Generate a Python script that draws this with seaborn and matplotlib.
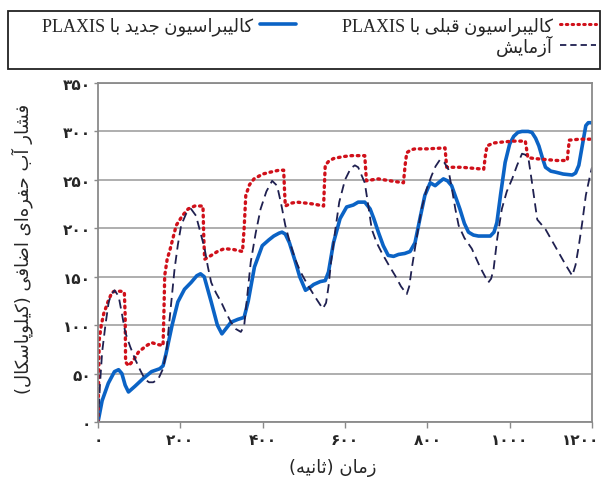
import numpy as np
import pandas as pd
import matplotlib
matplotlib.use("Agg")
import matplotlib.pyplot as plt
import matplotlib.transforms as mtransforms
import seaborn as sns
from matplotlib import font_manager
from matplotlib.font_manager import FontProperties
from matplotlib.ft2font import FT2Font
from matplotlib.lines import Line2D
from matplotlib.patches import Rectangle

# ---------------- data ----------------
time_new = [0, 10, 25, 40, 50, 58, 66, 74, 90, 110, 130, 150, 158, 165, 180, 194, 210, 226, 240, 249,
            258, 275, 290, 301, 312, 323, 340, 355, 365, 380, 399, 415, 427, 440, 447, 455, 465, 479,
            490, 504, 515, 524, 540, 552, 560, 572, 588, 604, 612, 620, 632, 648, 661, 670, 681, 693,
            705, 718, 730, 745, 758, 770, 782, 794, 807, 819, 830, 839, 849, 859, 879, 890, 900, 912,
            924, 940, 953, 962, 969, 978, 989, 1000, 1010, 1020, 1030, 1045, 1054, 1063, 1071, 1080,
            1087, 1100, 1111, 1130, 1152, 1160, 1168, 1175, 1185, 1191, 1200]
pp_new = [0, 22, 40, 52, 54, 50, 38, 31, 37, 45, 52, 55, 58, 70, 100, 124, 137, 144, 151, 153,
          150, 124, 100, 91, 97, 103, 106, 108, 125, 160, 182, 188, 192, 195, 196, 194, 185, 166,
          150, 136, 139, 142, 145, 146, 155, 185, 210, 222, 223, 224, 227, 227, 220, 210, 196, 182,
          172, 171, 173, 174, 176, 185, 210, 234, 247, 244, 248, 251, 249, 244, 220, 205, 196, 193,
          192, 192, 192, 196, 206, 235, 268, 287, 295, 299, 300, 300, 299, 293, 285, 272,
          263, 259, 258, 256, 255, 257, 265, 282, 306, 309, 309]

time_old = [0, 3, 8, 14, 25, 34, 42, 55, 64, 66, 67, 74, 85, 98, 115, 130, 145, 158, 160, 162,
            168, 175, 190, 205, 219, 235, 255, 257, 259, 275, 290, 307, 330, 351, 355, 359, 368,
            379, 400, 419, 440, 451, 453, 455, 470, 483, 505, 524, 548, 550, 552, 560, 572, 595,
            616, 648, 650, 652, 665, 681, 710, 742, 746, 750, 760, 770, 800, 843, 845, 847, 870,
            884, 910, 937, 941, 945, 960, 981, 1010, 1038, 1041, 1044, 1060, 1087, 1115, 1140,
            1142, 1145, 1170, 1200]
pp_old = [0, 85, 100, 112, 125, 134, 135, 135, 134, 110, 62, 58, 63, 72, 78, 82, 80, 79, 110, 151,
          168, 178, 203, 213, 220, 223, 223, 190, 168, 172, 176, 179, 178, 176, 200, 234, 245,
          251, 256, 258, 260, 260, 240, 223, 226, 227, 226, 225, 223, 245, 265, 269, 272, 274,
          275, 275, 262, 249, 250, 251, 249, 247, 265, 278, 281, 282, 282, 283, 273, 263, 263,
          263, 262, 261, 275, 285, 288, 289, 290, 290, 282, 273, 272, 271, 270, 270,
          280, 291, 292, 292]

time_test = [0, 5, 10, 18, 26, 33, 40, 50, 58, 66, 78, 90, 102, 114, 124, 134, 146, 158, 166, 176,
             186, 194, 202, 214, 226, 238, 248, 259, 267, 275, 287, 299, 311, 323, 335, 347, 355,
             362, 371, 383, 395, 409, 423, 435, 445, 455, 467, 479, 492, 506, 526, 546, 554, 560,
             566, 576, 586, 600, 614, 624, 632, 648, 656, 665, 677, 689, 705, 722, 736, 750, 756,
             762, 774, 786, 798, 810, 820, 831, 841, 851, 860, 868, 876, 890, 908, 928, 948, 955,
             961, 970, 981, 993, 1006, 1018, 1030, 1038, 1046, 1055, 1067, 1077, 1087, 1103, 1119,
             1135, 1152, 1160, 1168, 1176, 1185, 1193, 1200]
pp_test = [0, 40, 72, 100, 124, 132, 136, 130, 112, 93, 78, 65, 54, 44, 41, 41, 44, 55, 72, 115,
           158, 183, 203, 215, 220, 213, 197, 179, 160, 144, 133, 124, 113, 103, 96, 93, 99,
           128, 165, 195, 220, 238, 249, 244, 225, 203, 184, 168, 155, 144, 130, 117, 123, 140,
           165, 197, 227, 250, 262, 265, 263, 247, 225, 199, 185, 175, 163, 151, 140, 132, 140,
           158, 190, 220, 240, 254, 264, 271, 268, 261, 240, 220, 203, 190, 179, 160, 144, 148,
           158, 190, 220, 238, 251, 265, 277, 276, 271, 245, 209, 204, 199, 187, 175,
           163, 151, 162, 182, 205, 234, 250, 263]

label_new = "کالیبراسیون جدید با PLAXIS"
label_old = "کالیبراسیون قبلی با PLAXIS"
label_test = "آزمایش"
x_title = "زمان (ثانیه)"
y_title = "فشار آب حفره\u200cای اضافی (کیلوپاسکال)"
x_ticks = [0, 200, 400, 600, 800, 1000, 1200]
x_tick_labels = ["۰", "۲۰۰", "۴۰۰", "۶۰۰", "۸۰۰", "۱۰۰۰", "۱۲۰۰"]
y_ticks = [0, 50, 100, 150, 200, 250, 300, 350]
y_tick_labels = ["۰", "۵۰", "۱۰۰", "۱۵۰", "۲۰۰", "۲۵۰", "۳۰۰", "۳۵۰"]

# ---------------- Persian shaping (matplotlib has no text shaping) ----------------
_cmap = FT2Font(font_manager.findfont(FontProperties(family="DejaVu Sans"))).get_charmap()

FORMS = {
    "\u0622": (0xFE81, 0xFE82), "\u0627": (0xFE8D, 0xFE8E),
    "\u0628": (0xFE8F, 0xFE90, 0xFE91, 0xFE92), "\u067E": (0xFB56, 0xFB57, 0xFB58, 0xFB59),
    "\u062A": (0xFE95, 0xFE96, 0xFE97, 0xFE98), "\u062B": (0xFE99, 0xFE9A, 0xFE9B, 0xFE9C),
    "\u062C": (0xFE9D, 0xFE9E, 0xFE9F, 0xFEA0), "\u062D": (0xFEA1, 0xFEA2, 0xFEA3, 0xFEA4),
    "\u062E": (0xFEA5, 0xFEA6, 0xFEA7, 0xFEA8), "\u062F": (0xFEA9, 0xFEAA),
    "\u0630": (0xFEAB, 0xFEAC), "\u0631": (0xFEAD, 0xFEAE), "\u0632": (0xFEAF, 0xFEB0),
    "\u0633": (0xFEB1, 0xFEB2, 0xFEB3, 0xFEB4), "\u0634": (0xFEB5, 0xFEB6, 0xFEB7, 0xFEB8),
    "\u0635": (0xFEB9, 0xFEBA, 0xFEBB, 0xFEBC), "\u0636": (0xFEBD, 0xFEBE, 0xFEBF, 0xFEC0),
    "\u0637": (0xFEC1, 0xFEC2, 0xFEC3, 0xFEC4), "\u0639": (0xFEC9, 0xFECA, 0xFECB, 0xFECC),
    "\u0641": (0xFED1, 0xFED2, 0xFED3, 0xFED4), "\u0642": (0xFED5, 0xFED6, 0xFED7, 0xFED8),
    "\u06A9": (0xFB8E, 0xFB8F, 0xFB90, 0xFB91), "\u06AF": (0xFB92, 0xFB93, 0xFB94, 0xFB95),
    "\u0644": (0xFEDD, 0xFEDE, 0xFEDF, 0xFEE0), "\u0645": (0xFEE1, 0xFEE2, 0xFEE3, 0xFEE4),
    "\u0646": (0xFEE5, 0xFEE6, 0xFEE7, 0xFEE8), "\u0647": (0xFEE9, 0xFEEA, 0xFEEB, 0xFEEC),
    "\u0648": (0xFEED, 0xFEEE), "\u06CC": (0xFBFC, 0xFBFD, 0xFBFE, 0xFBFF),
}
FALLBACK = {
    "\u06A9": (0xFED9, 0xFEDA, 0xFEDB, 0xFEDC),
    "\u06CC": (0xFEEF, 0xFEF0, 0xFEF3, 0xFEF4),
    "\u067E": (0xFE8F, 0xFE90, 0xFE91, 0xFE92),
}
for _k, _v in list(FORMS.items()):
    if not all(c in _cmap for c in _v) and _k in FALLBACK:
        FORMS[_k] = FALLBACK[_k]


def _jt(c):
    f = FORMS.get(c)
    if f is None:
        return "U"
    return "D" if len(f) == 4 else "R"


def shape(s):
    out = []
    for i, c in enumerate(s):
        f = FORMS.get(c)
        if f is None:
            out.append(c)
            continue
        jp = i > 0 and _jt(s[i - 1]) == "D"
        jn = len(f) == 4 and i + 1 < len(s) and _jt(s[i + 1]) in ("D", "R")
        if len(f) == 4:
            idx = 3 if (jp and jn) else 1 if jp else 2 if jn else 0
        else:
            idx = 1 if jp else 0
        out.append(chr(f[idx]) if f[idx] in _cmap else c)
    return "".join(out).replace("\u200c", "")


MIRROR = {"(": ")", ")": "("}


def rtl(s):
    s = shape(s)
    runs = []
    for c in s:
        ltr = c.isascii() and c.isalnum()
        if runs and runs[-1][0] == ltr:
            runs[-1][1].append(c)
        else:
            runs.append([ltr, [c]])
    parts = []
    for ltr, chars in reversed(runs):
        if ltr:
            parts.append("".join(chars))
        else:
            parts.append("".join(MIRROR.get(c, c) for c in reversed(chars)))
    return "".join(parts)


# ---------------- plot ----------------
sns.set_style("white")
plt.rcParams["font.family"] = ["DejaVu Sans"]

W, H = 605, 481
fig = plt.figure(figsize=(W / 100, H / 100), dpi=100)
ax = fig.add_axes([98 / W, 58 / H, 494 / W, 339 / H])

c_new, c_old, c_test = "#0b63c5", "#d0101a", "#1f2050"

sns.lineplot(data=pd.DataFrame({"t": time_new, "p": pp_new}), x="t", y="p", ax=ax,
             color=c_new, lw=2.6, sort=False, estimator=None, legend=False)
l_new = ax.lines[-1]
sns.lineplot(data=pd.DataFrame({"t": time_old, "p": pp_old}), x="t", y="p", ax=ax,
             color=c_old, lw=2.4, sort=False, estimator=None, legend=False)
l_old = ax.lines[-1]
l_old.set_linestyle((0, (0.5, 1.4)))
l_old.set_dash_capstyle("round")
sns.lineplot(data=pd.DataFrame({"t": time_test, "p": pp_test}), x="t", y="p", ax=ax,
             color=c_test, lw=1.3, sort=False, estimator=None, legend=False)
l_test = ax.lines[-1]
l_test.set_linestyle((0, (5, 3)))

ax.set_xlim(0, 1200)
ax.set_ylim(0, 350)
ax.set_xlabel("")
ax.set_ylabel("")

_bold = FT2Font(font_manager.findfont(FontProperties(family="DejaVu Sans", weight="bold"))).get_charmap()
tw = "bold" if all(ord(c) in _bold for c in "۰۱۲۳۴۵۶۸") else "normal"

ax.set_xticks(x_ticks)
ax.set_xticklabels(x_tick_labels, fontsize=11, fontweight=tw)
ax.set_yticks(y_ticks)
ax.set_yticklabels(y_tick_labels, fontsize=11, fontweight=tw)
ax.tick_params(axis="x", direction="out", length=4, width=1, color="#8a8a8a", pad=3, bottom=True)
ax.tick_params(axis="y", direction="out", length=3, width=1, color="#8a8a8a", pad=2, left=True)
# keep the last x tick label inside the figure
_last = ax.get_xticklabels()[-1]
_last.set_transform(_last.get_transform() + mtransforms.ScaledTranslation(-11 / 100, 0, fig.dpi_scale_trans))

ax.yaxis.grid(True, color="#a8a8a8", lw=1.3)
ax.xaxis.grid(False)
for sp in ax.spines.values():
    sp.set_color("#8a8a8a")
    sp.set_linewidth(1.3)
    sp.set_visible(True)

fig.text(333 / W, 1 - 468 / H, rtl(x_title), fontsize=13, ha="center", va="center")
fig.text(22 / W, 1 - 249 / H, rtl(y_title), fontsize=13, ha="center", va="center", rotation=90)

# ---------------- legend ----------------
fig.add_artist(Rectangle((8 / W, 1 - 70 / H), 592 / W, 58 / H, transform=fig.transFigure,
                         fill=False, edgecolor="#222222", lw=1.3))
lp = FontProperties(family=["Liberation Serif", "DejaVu Sans"], size=13)
h_new = Line2D([], [], color=c_new, lw=2.6)
h_old = Line2D([], [], color=c_old, lw=2.2, linestyle=(0, (0.5, 1.4)), dash_capstyle="round")
h_test = Line2D([], [], color=c_test, lw=1.3, linestyle=(0, (3.5, 2.2)))
common = dict(loc="upper right", frameon=False, markerfirst=False, prop=lp, handlelength=2.0,
              handletextpad=0.4, borderpad=0.0, borderaxespad=0.0, labelspacing=0.0,
              bbox_transform=fig.transFigure)
fig.legend([h_new], [rtl(label_new)], bbox_to_anchor=(296 / W, 1 - 17 / H), **common)
fig.legend([h_old, h_test], [rtl(label_old), rtl(label_test)],
           bbox_to_anchor=(596 / W, 1 - 17 / H), **common)

fig.savefig("out.png", dpi=100)
